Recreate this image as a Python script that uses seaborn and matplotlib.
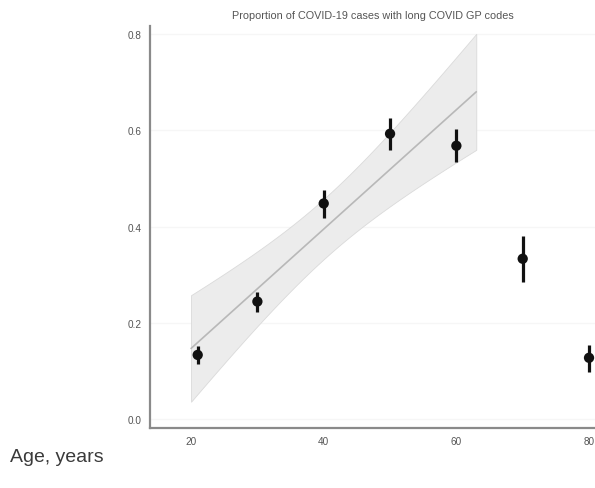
import numpy as np
import pandas as pd
import matplotlib.pyplot as plt
import seaborn as sns

sns.set_theme(style="whitegrid", rc={"grid.color": "#f6f6f6", "grid.linewidth": 1.0})
plt.rcParams['font.family'] = ['Liberation Sans', 'DejaVu Sans']

# data
age = [21, 30, 40, 50, 60, 70, 80]
prop = [0.133, 0.244, 0.448, 0.593, 0.568, 0.333, 0.127]
ci_low = [0.114, 0.222, 0.418, 0.560, 0.535, 0.285, 0.098]
ci_high = [0.152, 0.264, 0.477, 0.625, 0.603, 0.381, 0.154]
fit_ages = [21, 30, 40, 50, 60]   # points used in the linear fit
fit_range = (20, 63)

df = pd.DataFrame({'age': age, 'prop': prop, 'lo': ci_low, 'hi': ci_high})

# linear fit with 95% normal-theory band
fd = df[df['age'].isin(fit_ages)]
X = np.column_stack([np.ones(len(fd)), fd['age']])
beta, *_ = np.linalg.lstsq(X, fd['prop'], rcond=None)
resid = fd['prop'] - X @ beta
s2 = (resid ** 2).sum() / (len(fd) - 2)
cov = s2 * np.linalg.inv(X.T @ X)
xg = np.linspace(*fit_range, 100)
Xg = np.column_stack([np.ones_like(xg), xg])
yg = Xg @ beta
se = np.sqrt(np.einsum('ij,jk,ik->i', Xg, cov, Xg))
fit = pd.DataFrame({'age': xg, 'fit': yg})

fig = plt.figure(figsize=(5.95, 4.89), dpi=100)
ax = fig.add_axes([0.252, 0.1227, 0.748, 0.822])

ax.fill_between(xg, yg - 1.96 * se, yg + 1.96 * se, facecolor='#ececec',
                edgecolor='#dadada', linewidth=0.6, zorder=1)
sns.lineplot(data=fit, x='age', y='fit', ax=ax, color='#b8b8b8', linewidth=1.2, zorder=2)

ax.errorbar(df['age'], df['prop'], yerr=[df['prop'] - df['lo'], df['hi'] - df['prop']],
            fmt='none', ecolor='#111111', elinewidth=2.3, capsize=0, zorder=3)
sns.scatterplot(data=df, x='age', y='prop', ax=ax, color='#111111', s=55,
                edgecolor='none', zorder=4)

ax.set_xlim(13.8, 80.9)
ax.set_ylim(-0.019, 0.817)
ax.set_xticks([20, 40, 60, 80])
ax.set_yticks([0.0, 0.2, 0.4, 0.6, 0.8])
ax.set_yticklabels(['0.0', '0.2', '0.4', '0.6', '0.8'])
ax.xaxis.grid(False)
ax.set_xlabel('')
ax.set_ylabel('')

for side in ['top', 'right']:
    ax.spines[side].set_visible(False)
for side in ['left', 'bottom']:
    ax.spines[side].set_color('#8a8a8a')
    ax.spines[side].set_linewidth(1.6)
ax.tick_params(axis='both', length=3, width=0.8, color='#8a8a8a',
               labelsize=7.2, labelcolor='#555555', pad=3)

ax.set_title('Proportion of COVID-19 cases with long COVID GP codes',
             fontsize=7.8, color='#555555', pad=6)
fig.text(0.017, 0.055, 'Age, years', fontsize=14, color='#3a3a3a')

fig.savefig('out.png', dpi=100)
